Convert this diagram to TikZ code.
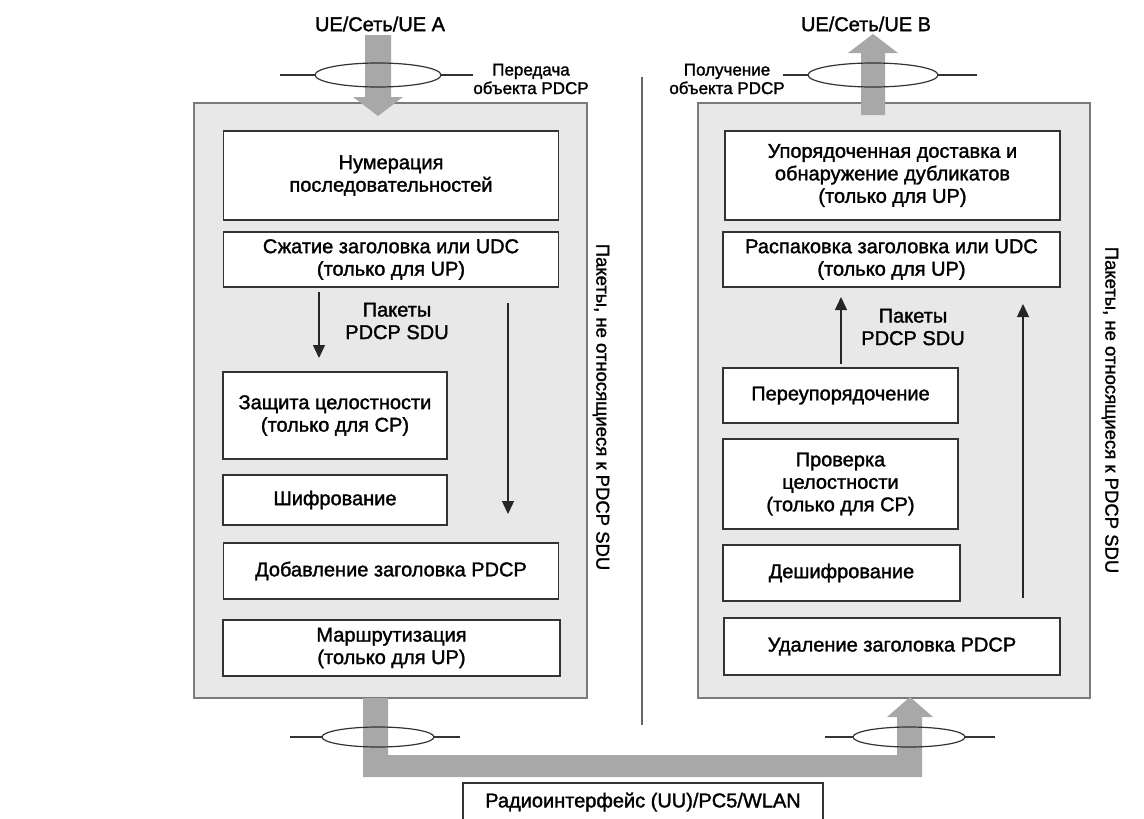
\documentclass[tikz,border=0pt]{standalone}
\usepackage{fontspec}
\setmainfont{Liberation Sans}
\newfontfamily\heavy{Liberation Sans}[FakeBold=1.5]
\usetikzlibrary{arrows.meta}
\definecolor{outerfill}{HTML}{E8E8E8}
\definecolor{outerdraw}{HTML}{7A7A7A}
\definecolor{pipe}{HTML}{A8A8A8}
\definecolor{boxdraw}{HTML}{333333}
\tikzset{
  outerbox/.style={draw=outerdraw, fill=outerfill, line width=1.8pt},
  fnbox/.style={draw=boxdraw, fill=white, line width=1.8pt, inner sep=0pt, align=center, font=\heavy\fontsize{20}{22.5}\selectfont},
  lbl/.style={align=center, inner sep=0pt, font=\heavy\fontsize{20}{22.5}\selectfont},
  vlbl/.style={align=center, inner sep=0pt, font=\heavy\fontsize{18.5}{22}\selectfont},
  small/.style={align=center, inner sep=0pt, font=\heavy\fontsize{17}{18.5}\selectfont},
  pipearrow/.style={fill=pipe, draw=none},
  sap/.style={draw=black!80, line width=1.2pt},
  flow/.style={draw=black!85, line width=1.3pt, -{Triangle[width=12pt,length=13pt]}},
  divider/.style={draw=black!60, line width=1.2pt}
}
\begin{document}
\begin{tikzpicture}[x=1pt,y=-1pt]
\useasboundingbox (0,0) rectangle (1144,819);
% outer boxes
\draw[outerbox] (194,103) rectangle (587,698);
\draw[outerbox] (698,103) rectangle (1090,698);
% divider
\draw[divider] (642,77) -- (642,725);
% top-left gray arrow
\fill[pipearrow] (365,35) -- (391,35) -- (391,97) -- (403,97) -- (378,116) -- (353,97) -- (365,97) -- cycle;
\draw[sap] (280,75) -- (315,75);
\draw[sap] (441,75) -- (473,75);
\draw[sap] (378,75) ellipse [x radius=63, y radius=12];
% top-right gray arrow
\fill[pipearrow] (861,115) -- (885,115) -- (885,53) -- (898,53) -- (873,34) -- (848,53) -- (861,53) -- cycle;
\draw[sap] (783,75) -- (808,75);
\draw[sap] (938,75) -- (977,75);
\draw[sap] (873,75) ellipse [x radius=65, y radius=12];
% bottom pipe
\fill[pipearrow] (363,698) -- (363,777) -- (922,777) -- (922,717) -- (933,717) -- (910,697) -- (887,717) -- (897,717) -- (897,755) -- (388,755) -- (388,698) -- cycle;
\draw[sap] (290,737) -- (322,737);
\draw[sap] (434,737) -- (460,737);
\draw[sap] (378,737) ellipse [x radius=56, y radius=10];
\draw[sap] (825,737) -- (853,737);
\draw[sap] (965,737) -- (995,737);
\draw[sap] (909,737) ellipse [x radius=56, y radius=10];
% labels top
\node[lbl] (ueA) at (380,24) {UE/Сеть/UE A};
\node[lbl] (ueB) at (866,24) {UE/Сеть/UE B};
\node[small] (tx) at (531,79) {Передача\\объекта PDCP};
\node[small] (rx) at (727,79) {Получение\\объекта PDCP};
% left boxes
\node[fnbox, minimum width=335pt, minimum height=89pt] (L1) at (391,175.5) {Нумерация\\последовательностей};
\node[fnbox, minimum width=335pt, minimum height=55pt] (L2) at (391,259.5) {Сжатие заголовка или UDC\\(только для UP)};
\node[fnbox, minimum width=224pt, minimum height=87pt] (L3) at (335,415.5) {Защита целостности\\(только для CP)};
\node[fnbox, minimum width=224pt, minimum height=50pt] (L4) at (335,500) {Шифрование};
\node[fnbox, minimum width=335pt, minimum height=56pt] (L5) at (391,571) {Добавление заголовка PDCP};
\node[fnbox, minimum width=337pt, minimum height=56pt] (L6) at (391.5,648) {Маршрутизация\\(только для UP)};
% left arrows
\coordinate (la1) at (319,292);
\coordinate (la2) at (319,358);
\draw[flow] (la1) -- (la2);
\node[lbl] (lp) at (397,321) {Пакеты\\PDCP SDU};
\coordinate (lb1) at (508,303);
\coordinate (lb2) at (508,514);
\draw[flow] (lb1) -- (lb2);
\node[vlbl, rotate=-90] (lv) at (601,407) {Пакеты, не относящиеся к PDCP SDU};
% right boxes
\node[fnbox, minimum width=335pt, minimum height=89pt] (R1) at (892.5,175.5) {Упорядоченная доставка и\\обнаружение дубликатов\\(только для UP)};
\node[fnbox, minimum width=337pt, minimum height=55pt] (R2) at (891.5,259.5) {Распаковка заголовка или UDC\\(только для UP)};
\node[fnbox, minimum width=235pt, minimum height=55pt] (R3) at (840.5,395.5) {Переупорядочение};
\node[fnbox, minimum width=235pt, minimum height=90pt] (R4) at (840.5,484) {Проверка\\целостности\\(только для CP)};
\node[fnbox, minimum width=237pt, minimum height=56pt] (R5) at (841.5,573) {Дешифрование};
\node[fnbox, minimum width=336pt, minimum height=57pt] (R6) at (892,646.5) {Удаление заголовка PDCP};
% right arrows
\coordinate (ra1) at (841,364);
\coordinate (ra2) at (841,297);
\draw[flow] (ra1) -- (ra2);
\node[lbl] (rp) at (913,327) {Пакеты\\PDCP SDU};
\coordinate (rb1) at (1023,598);
\coordinate (rb2) at (1023,304);
\draw[flow] (rb1) -- (rb2);
\node[vlbl, rotate=-90] (rv) at (1110,410) {Пакеты, не относящиеся к PDCP SDU};
% bottom box
\draw[draw=boxdraw, fill=white, line width=1.8pt] (463,783) rectangle (823,830);
\node[lbl] (radio) at (643,802) {Радиоинтерфейс (UU)/PC5/WLAN};
\end{tikzpicture}
\end{document}
